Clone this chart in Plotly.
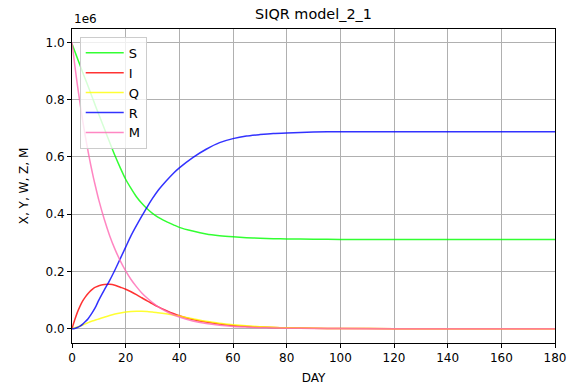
import plotly.graph_objects as go

# values in units of 1e6 (as shown by the "1e6" offset on the y axis)
days = [0, 1, 2, 3, 4, 5, 6, 7, 8, 9, 10, 12, 14, 16, 18, 20, 22, 24, 26, 28, 30,
        32, 35, 38, 40, 45, 50, 55, 60, 65, 70, 75, 80, 90, 100, 120, 140, 160, 180]

S = [0.995, 0.970, 0.945, 0.920, 0.895, 0.871, 0.847, 0.822, 0.797, 0.772, 0.748,
     0.700, 0.652, 0.605, 0.562, 0.522, 0.490, 0.461, 0.438, 0.419, 0.403,
     0.390, 0.375, 0.362, 0.354, 0.341, 0.331, 0.325, 0.321, 0.318, 0.316,
     0.3145, 0.3135, 0.3125, 0.312, 0.312, 0.312, 0.312, 0.312]

I = [0.0, 0.030, 0.057, 0.079, 0.097, 0.111, 0.123, 0.133, 0.141, 0.146, 0.150,
     0.154, 0.155, 0.152, 0.145, 0.138, 0.129, 0.119, 0.108, 0.097, 0.087,
     0.077, 0.064, 0.052, 0.045, 0.032, 0.023, 0.016, 0.011, 0.008, 0.0055,
     0.004, 0.003, 0.0012, 0.0005, 0.0001, 0.0, 0.0, 0.0]

Q = [0.0, 0.003, 0.006, 0.009, 0.013, 0.017, 0.021, 0.025, 0.028, 0.031, 0.034,
     0.040, 0.046, 0.051, 0.055, 0.058, 0.060, 0.061, 0.061, 0.060, 0.058,
     0.056, 0.052, 0.047, 0.044, 0.035, 0.026, 0.019, 0.014, 0.010, 0.007,
     0.005, 0.003, 0.0015, 0.0007, 0.0001, 0.0, 0.0, 0.0]

R = [0.0, 0.001, 0.004, 0.009, 0.016, 0.025, 0.035, 0.048, 0.063, 0.080, 0.100,
     0.135, 0.168, 0.205, 0.245, 0.285, 0.325, 0.360, 0.393, 0.425, 0.455,
     0.482, 0.515, 0.545, 0.562, 0.598, 0.627, 0.650, 0.664, 0.673, 0.678,
     0.682, 0.684, 0.687, 0.688, 0.688, 0.688, 0.688, 0.688]

M = [1.0, 0.923, 0.852, 0.787, 0.726, 0.670, 0.619, 0.571, 0.527, 0.487, 0.449,
     0.383, 0.326, 0.278, 0.237, 0.202, 0.172, 0.147, 0.125, 0.107, 0.091,
     0.077, 0.061, 0.048, 0.041, 0.027, 0.018, 0.012, 0.008, 0.0055, 0.0037,
     0.0025, 0.0017, 0.0007, 0.0003, 0.0, 0.0, 0.0, 0.0]

series = [("S", S, "#00ff00"), ("I", I, "#ff0000"), ("Q", Q, "#ffff00"),
          ("R", R, "#0000ff"), ("M", M, "#ff69b4")]

x_ticks = [0, 20, 40, 60, 80, 100, 120, 140, 160, 180]
y_ticks = [0.0, 0.2, 0.4, 0.6, 0.8, 1.0]

FONT = "DejaVu Sans"

fig = go.Figure()
for name, vals, col in series:
    fig.add_trace(go.Scatter(
        x=days, y=vals, name=name, mode="lines",
        line=dict(color=col, width=1.5, shape="spline", smoothing=0.6),
        opacity=0.8,
    ))

axis_common = dict(
    showline=True, linecolor="black", linewidth=1, mirror=True,
    ticks="outside", ticklen=4, tickwidth=1, tickcolor="black",
    showgrid=True, gridcolor="#b0b0b0", gridwidth=1,
    zeroline=False, automargin=False,
    tickfont=dict(family=FONT, size=12, color="black"),
)

fig.update_layout(
    width=573, height=388,
    margin=dict(l=72, r=18, t=29, b=45),
    paper_bgcolor="white", plot_bgcolor="white",
    font=dict(family=FONT, size=12, color="black"),
    title=dict(text="SIQR model_2_1", x=(72 + 555) / 2 / 573, xanchor="center",
               y=1 - 14 / 388, yanchor="middle",
               font=dict(family=FONT, size=14.4, color="black")),
    xaxis=dict(range=[0, 180], tickvals=x_ticks,
               title=dict(text="DAY", font=dict(family=FONT, size=12), standoff=9),
               **axis_common),
    yaxis=dict(range=[-0.05, 1.047], tickvals=y_ticks, tickformat=".1f",
               title=dict(text="X, Y, W, Z, M", font=dict(family=FONT, size=12), standoff=14),
               **axis_common),
    legend=dict(x=0.016, y=0.975, xanchor="left", yanchor="top",
                bgcolor="rgba(255,255,255,0.8)", bordercolor="#cccccc", borderwidth=1,
                font=dict(family=FONT, size=13, color="black"),
                tracegroupgap=0, itemwidth=38),
    showlegend=True,
)

fig.add_annotation(text="1e6", xref="paper", yref="paper", x=0, y=1,
                   xanchor="left", yanchor="bottom", showarrow=False,
                   font=dict(family=FONT, size=12, color="black"), yshift=1)

fig.write_html("out.html", config={"displayModeBar": False},
               post_script="document.body.style.margin='0';document.body.style.padding='0';")
